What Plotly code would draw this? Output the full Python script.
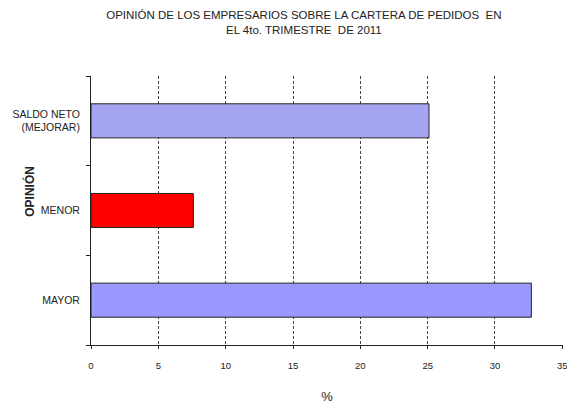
import plotly.graph_objects as go

categorias = ["MAYOR", "MENOR", "SALDO NETO<br>(MEJORAR)"]
valores = [32.7, 7.6, 25.1]
colores = ["#9999FF", "#FF0000", "#A5A5F2"]
ticks_x = [0, 5, 10, 15, 20, 25, 30, 35]

fig = go.Figure()
fig.add_trace(
    go.Bar(
        x=valores,
        y=categorias,
        orientation="h",
        width=0.38,
        marker=dict(color=colores, line=dict(color="#222222", width=1)),
        showlegend=False,
    )
)

fig.update_layout(
    width=567,
    height=404,
    margin=dict(l=91, r=4, t=76, b=59),
    paper_bgcolor="white",
    plot_bgcolor="white",
    font=dict(family="Liberation Sans, Arial, sans-serif", color="#222222", size=10),
    title=dict(
        text="OPINIÓN DE LOS EMPRESARIOS SOBRE LA CARTERA DE PEDIDOS  EN<br>EL 4to. TRIMESTRE  DE 2011",
        x=0.536,
        xanchor="center",
        y=0.952,
        yanchor="top",
        font=dict(size=11.5, color="#222222"),
    ),
    xaxis=dict(
        range=[0, 35.05],
        tickvals=ticks_x,
        showgrid=True,
        gridcolor="#444444",
        griddash="3px,2px",
        gridwidth=1,
        zeroline=False,
        showline=True,
        linecolor="#222222",
        linewidth=1,
        ticks="outside",
        ticklen=3,
        tickcolor="#222222",
        tickfont=dict(size=9.5),
        ticklabelstandoff=9,
        ticklabeloverflow="allow",
        automargin=False,
        title=dict(text="%", font=dict(size=13), standoff=22),
    ),
    yaxis=dict(
        range=[-0.5, 2.5],
        showgrid=False,
        zeroline=False,
        showline=True,
        linecolor="#222222",
        linewidth=1,
        ticks="outside",
        tickson="boundaries",
        ticklen=4,
        tickcolor="#222222",
        tickfont=dict(size=10.5),
        ticklabelstandoff=8,
        automargin=False,
    ),
    annotations=[
        dict(
            text="<b>OPINIÓN</b>",
            textangle=-90,
            xref="paper",
            yref="paper",
            x=-0.129,
            y=0.57,
            xanchor="center",
            yanchor="middle",
            showarrow=False,
            font=dict(size=12, color="#222222"),
        )
    ],
)

fig.write_html(
    "out.html",
    config={"displayModeBar": False},
    post_script="document.body.style.margin='0';",
)
